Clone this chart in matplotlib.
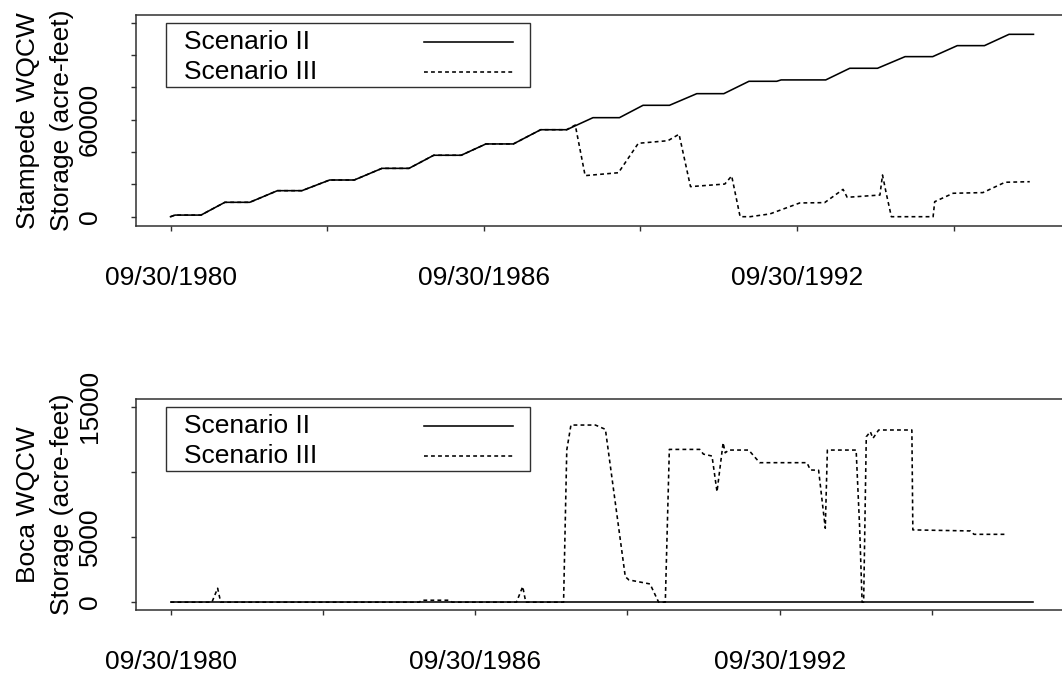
import numpy as np
import matplotlib
matplotlib.use("Agg")
import matplotlib.pyplot as plt
from matplotlib.patches import Rectangle
from matplotlib.lines import Line2D

plt.rcParams['font.family'] = ['Liberation Sans', 'DejaVu Sans']
FS = 19.0
INK = '#303030'
LW = 1.15

# Stampede WQCW storage (acre-feet)
stampede_ii_dates = ['1980-09-30', '1980-10-31', '1981-05-01', '1981-10-15', '1982-04-07',
                     '1982-10-18', '1983-04-07', '1983-10-18', '1984-04-07', '1984-10-18',
                     '1985-04-25', '1985-10-15', '1986-04-25', '1986-10-15', '1987-04-25',
                     '1987-11-02', '1988-05-02', '1988-11-02', '1989-05-06', '1989-10-18',
                     '1990-04-21', '1990-10-29', '1991-05-06', '1991-10-29', '1992-05-10',
                     '1992-06-10', '1993-04-18', '1993-10-03', '1994-04-15', '1994-10-25',
                     '1995-05-06', '1995-10-25', '1996-05-02', '1996-10-21', '1997-04-10']
stampede_ii = [0, 1000, 1000, 8900, 8900,
               16100, 16100, 22700, 22700, 29900,
               29900, 38000, 38000, 45000, 45000,
               53800, 53800, 61250, 61250, 68900,
               68900, 76100, 76100, 83750, 83750,
               84600, 84600, 91800, 91800, 99000,
               99000, 105800, 105800, 112800, 112800]

# scenario III follows scenario II until spring 1988
stampede_iii_dates = stampede_ii_dates[:17] + [
    '1988-07-01', '1988-09-08', '1989-04-29', '1989-09-15', '1990-04-10',
    '1990-06-27', '1990-09-15', '1991-05-13', '1991-06-30', '1991-08-28',
    '1991-11-06', '1992-03-23', '1992-10-18', '1993-04-10', '1993-08-17',
    '1993-09-15', '1994-05-02', '1994-05-20', '1994-06-15', '1994-07-21',
    '1995-05-09', '1995-05-20', '1995-09-26', '1996-04-21', '1996-09-23',
    '1997-03-15']
stampede_iii = stampede_ii[:17] + [
    56700, 25400, 27200, 45400, 47000,
    51000, 18600, 20200, 25200, 0,
    0, 1700, 8500, 8700, 16900,
    12000, 13400, 25800, 14500, 0,
    0, 9300, 14500, 14900, 21300,
    21650]

# Boca WQCW storage (acre-feet)
boca_ii_dates = ['1980-09-30', '1997-09-30']
boca_ii = [0, 0]

boca_iii_dates = ['1980-09-30', '1981-07-25', '1981-09-04', '1981-09-26', '1985-08-24',
                  '1985-09-12', '1986-03-30', '1986-04-18', '1987-07-25', '1987-09-08',
                  '1987-09-30', '1988-06-28', '1988-07-21', '1988-08-20', '1989-02-12',
                  '1989-04-25', '1989-09-15', '1989-10-11', '1990-03-12', '1990-05-13',
                  '1990-06-30', '1990-07-29', '1991-03-05', '1991-03-31', '1991-06-01',
                  '1991-07-07', '1991-08-20', '1991-09-04', '1991-09-30', '1992-02-20',
                  '1992-05-09', '1993-04-14', '1993-05-09', '1993-07-07', '1993-08-24',
                  '1993-09-08', '1994-04-03', '1994-04-28', '1994-05-16', '1994-05-27',
                  '1994-06-15', '1994-07-14', '1994-08-02', '1994-09-12', '1995-05-09',
                  '1995-05-16', '1996-07-03', '1996-07-29', '1997-03-26']
boca_iii = [0, 0, 1070, 0, 0,
            150, 150, 0, 0, 1200,
            0, 0, 11680, 13600, 13600,
            13270, 1960, 1710, 1400, 0,
            0, 11730, 11730, 11370, 11220,
            8480, 12240, 11470, 11680, 11680,
            10710, 10710, 10150, 10130, 5680,
            11680, 11680, 5800, 0, 0,
            12700, 13090, 12580, 13220, 13220,
            5550, 5470, 5210, 5210]

tick_dates = ['1980-09-30', '1983-09-30', '1986-09-30', '1989-09-30', '1992-09-30', '1995-09-30']
tick_labels = ['09/30/1980', '', '09/30/1986', '', '09/30/1992', '']
series_names = ['Scenario II', 'Scenario III']

DASH = (0, (2.4, 2.0))


def to_dates(lst):
    return np.array(lst, dtype='datetime64[D]')


def key(ax):
    # boxed key in the upper left, line samples on the right
    ax.add_patch(Rectangle((0.0322, 0.6588), 0.3905, 0.3032, transform=ax.transAxes,
                           fill=False, edgecolor=INK, linewidth=1.0, zorder=5))
    for yy, name, ls in [(0.8735, series_names[0], '-'), (0.7313, series_names[1], DASH)]:
        ax.text(0.0515, yy, name, transform=ax.transAxes, fontsize=FS,
                ha='left', va='center', zorder=6)
        ax.add_line(Line2D([0.3095, 0.4045], [yy, yy], transform=ax.transAxes,
                           color='black', linewidth=LW, linestyle=ls, zorder=6))


def style(ax, yticks, ylabels, ylim, ytitle):
    ax.set_xmargin(0.04)
    ax.set_ylim(*ylim)
    ax.set_xticks(to_dates(tick_dates))
    ax.set_xticklabels(tick_labels, fontsize=FS)
    ax.set_yticks(yticks)
    ax.set_yticklabels(ylabels, fontsize=FS, rotation=90, va='center')
    ax.tick_params(axis='both', direction='out', length=3.5, width=1.0, color=INK)
    ax.tick_params(axis='x', pad=25)
    ax.tick_params(axis='y', pad=21)
    for s in ax.spines.values():
        s.set_linewidth(1.1)
        s.set_color(INK)
    ax.set_ylabel(ytitle, fontsize=FS, linespacing=1.5)
    ax.yaxis.set_label_coords(-0.0668, 0.5)


fig = plt.figure(figsize=(10.62, 6.77), dpi=100)
W = 932 / 1062
H = 211 / 677
ax1 = fig.add_axes([136 / 1062, 1 - 226 / 677, W, H])
ax2 = fig.add_axes([136 / 1062, 1 - 610 / 677, W, H])

ax1.plot(to_dates(stampede_ii_dates), stampede_ii, color='black', linewidth=LW)
ax1.plot(to_dates(stampede_iii_dates), stampede_iii, color='black', linewidth=LW, linestyle=DASH)
style(ax1, [0, 20000, 40000, 60000, 80000, 100000, 120000],
      ['0', '', '', '60000', '', '', ''], (-5750, 124750),
      'Stampede WQCW\nStorage (acre-feet)')
key(ax1)

ax2.plot(to_dates(boca_ii_dates), boca_ii, color='black', linewidth=LW)
ax2.plot(to_dates(boca_iii_dates), boca_iii, color='black', linewidth=LW, linestyle=DASH)
style(ax2, [0, 5000, 10000, 15000], ['0', '5000', '', '15000'], (-600, 15600),
      'Boca WQCW\nStorage (acre-feet)')
key(ax2)

fig.savefig('out.png', dpi=100)
